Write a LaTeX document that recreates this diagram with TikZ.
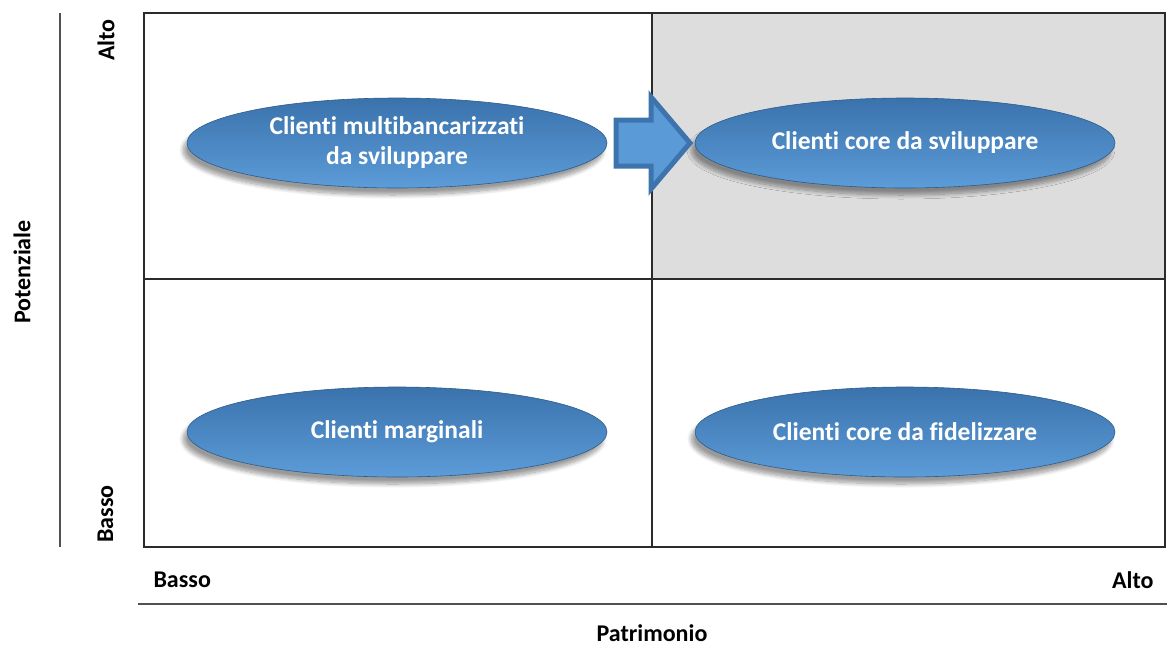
\documentclass[tikz,border=0pt]{standalone}
\usepackage{fontspec}
\setmainfont[Ligatures={NoCommon}]{Carlito}
\usetikzlibrary{shapes.geometric,shadows.blur}
\definecolor{gridline}{HTML}{2B2B2B}
\definecolor{axisgray}{HTML}{505050}
\definecolor{quadgray}{HTML}{DDDDDD}
\definecolor{blueTop}{HTML}{3A72AC}
\definecolor{blueBot}{HTML}{5C9CD8}
\definecolor{arrowfill}{HTML}{5A9AD6}
\definecolor{arrowedge}{HTML}{3D74AE}
\tikzset{
  seg/.style={ellipse, minimum width=420pt, minimum height=90pt, inner sep=0pt,
    top color=blueTop, bottom color=blueBot, draw=blueTop!80!black, line width=0.6pt,
    blur shadow={shadow xshift=-4pt, shadow yshift=-7pt, shadow blur steps=10, shadow blur radius=4pt, shadow opacity=40},
    text=white, font=\bfseries\fontsize{25.5}{30}\selectfont, align=center},
  axislabel/.style={font=\bfseries\fontsize{24}{28}\selectfont, text=black},
  axisline/.style={draw=axisgray, line width=2.6pt},
  grid/.style={draw=gridline, line width=1.3pt}
}
\begin{document}
\begin{tikzpicture}[x=1pt,y=1pt]
\useasboundingbox (0,0) rectangle (1167,-646);
% quadrant frame
\fill[quadgray] (652,-13) rectangle (1165,-279);
\draw[grid] (144,-13) rectangle (1165,-547);
\draw[grid] (652,-13) -- (652,-547);
\draw[grid] (144,-279) -- (1165,-279);
% axes
\draw[axisline] (60,-13) -- (60,-547);
\draw[axisline] (138,-604) -- (1167,-604);
\node[axislabel, rotate=90, anchor=north east] (vhigh) at (94,-16) {Alto};
\node[axislabel, rotate=90, anchor=north west] (vlow) at (94,-546) {Basso};
\node[axislabel, rotate=90] (vname) at (22,-272) {Potenziale};
\node[axislabel, anchor=west] (hlow) at (150,-580) {Basso};
\node[axislabel, anchor=east] (hhigh) at (1157,-580) {Alto};
\node[axislabel, anchor=base] (hname) at (652,-641) {Patrimonio};
% segments
\node[seg] (multi) at (397,-143) {Clienti multibancarizzati\\da sviluppare};
\node[seg] (coredev) at (905,-143) {Clienti core da sviluppare};
\node[seg] (marg) at (397,-432) {Clienti marginali};
\node[seg] (corefid) at (905,-432) {Clienti core da fidelizzare};
% block arrow between the upper segments
\draw[fill=arrowfill, draw=arrowedge, line width=5pt, line join=miter]
  (616,-120) -- (651,-120) -- (651,-97) -- (690,-143) -- (651,-189) -- (651,-166) -- (616,-166) -- cycle;
\end{tikzpicture}
\end{document}
